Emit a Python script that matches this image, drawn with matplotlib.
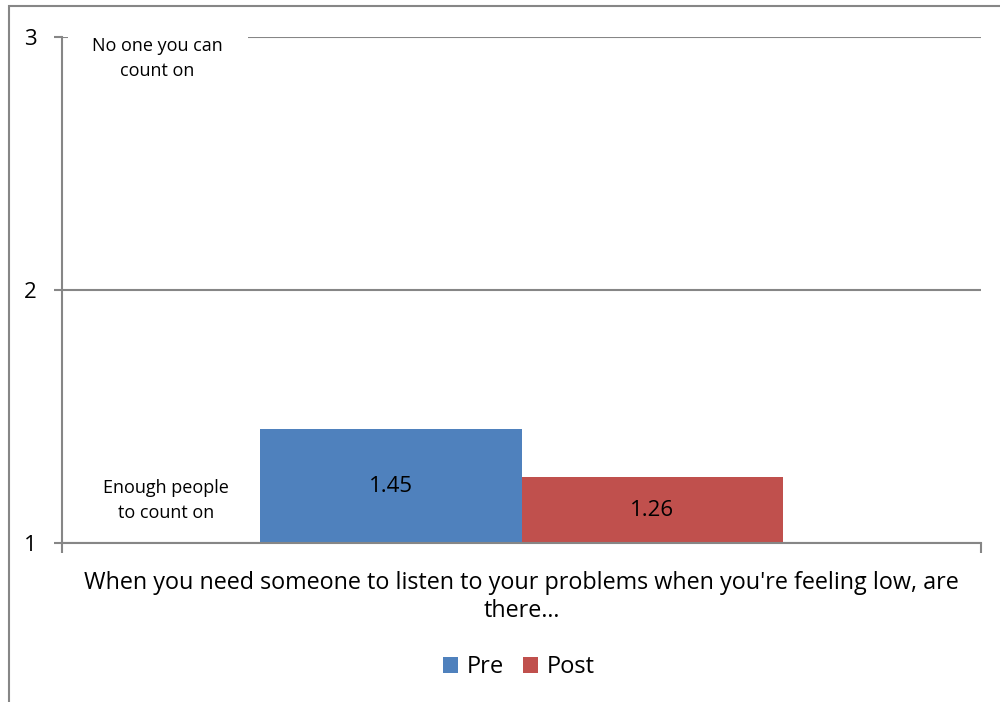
import matplotlib.pyplot as plt
from matplotlib.patches import Rectangle

plt.rcParams['font.family'] = ['Open Sans', 'DejaVu Sans']

series = ["Pre", "Post"]
values = [1.45, 1.26]
colors = ["#4f81bd", "#c0504d"]
yticks = [1, 2, 3]
question = "When you need someone to listen to your problems when you're feeling low, are\nthere…"
top_note = "No one you can\ncount on"
bottom_note = "Enough people\nto count on"

fig = plt.figure(figsize=(10, 7.02), dpi=100)
# outer chart frame, cropped at right and bottom
fig.patches.append(Rectangle((0.0085, -0.1), 1.2, 1.092, transform=fig.transFigure,
                             fill=False, edgecolor="#868686", linewidth=1.5))
ax = fig.add_axes([0.062, 0.2265, 0.919, 0.7205])

width = 0.285
xs = [0.5 - width / 2, 0.5 + width / 2]
bars = ax.bar(xs, [v - 1 for v in values], bottom=1, width=width, color=colors,
              label=series, zorder=2)
for x, v in zip(xs, values):
    ax.text(x, (1 + v) / 2, f"{v:.2f}", ha="center", va="center", fontsize=16, zorder=3)

ax.set_xlim(0, 1)
ax.set_ylim(1, 3)
ax.set_yticks(yticks)
ax.set_yticklabels([str(t) for t in yticks])
ax.set_xticks([0, 1])
ax.set_xticklabels(["", ""])
ax.tick_params(axis="y", length=6, width=1.5, color="#868686", labelsize=16, pad=12)
ax.tick_params(axis="x", length=7, width=1.5, color="#868686")
ax.grid(axis="y", color="#868686", linewidth=1.5, zorder=0)
for s in ["top", "right"]:
    ax.spines[s].set_visible(False)
for s in ["left", "bottom"]:
    ax.spines[s].set_color("#868686")
    ax.spines[s].set_linewidth(1.5)

# white label box that hides part of the top gridline
ax.add_patch(Rectangle((0.0065, 2.85), 0.196, 0.2, facecolor="white", edgecolor="none",
                       zorder=3, clip_on=False))
ax.text(0.104, 3.0, top_note, ha="center", va="top", fontsize=13, linespacing=1.5, zorder=4)
ax.text(0.113, 1.17, bottom_note, ha="center", va="center", fontsize=13, linespacing=1.5,
        zorder=4)

ax.set_xlabel(question, fontsize=16.8, labelpad=10, linespacing=1.2)

ax.legend(bars, series, loc="upper center", bbox_to_anchor=(0.497, -0.18), ncol=2,
          frameon=False, fontsize=17, handlelength=0.65, handleheight=0.65,
          handletextpad=0.35, columnspacing=0.8)

fig.savefig("out.png", dpi=100)
